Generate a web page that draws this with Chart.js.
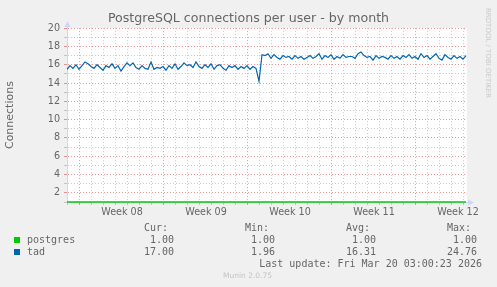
<!DOCTYPE html>
<html>
<head>
<meta charset="utf-8">
<script src="https://cdn.jsdelivr.net/npm/chart.js@4/dist/chart.umd.min.js"></script>
<style>
  html, body { margin:0; padding:0; background:#f0f0f0; }
  #wrap { position:relative; width:497px; height:287px; overflow:hidden; }
  canvas { position:absolute; left:0; top:0; }
  .t { position:absolute; font-family:'DejaVu Sans Mono', monospace; font-size:10px; line-height:12px; color:#666; white-space:pre; }
  .sq { position:absolute; width:6px; height:6px; }
  .wm { position:absolute; font-family:'DejaVu Sans', sans-serif; font-size:7px; color:#c8c8c8; white-space:pre; }
</style>
</head>
<body>
<div id="wrap">
  <canvas id="c" width="497" height="287"></canvas>
</div>
<script>
// ---- data ----
const titleText = 'PostgreSQL connections per user - by month';
const yAxisTitle = 'Connections';
const weekLabels = ['Week 08', 'Week 09', 'Week 10', 'Week 11', 'Week 12'];
const yTickLabels = ['2', '4', '6', '8', '10', '12', '14', '16', '18', '20'];
const seriesNames = ['postgres', 'tad'];
const seriesColors = ['#00CC00', '#0066B3'];
// samples every 6 hours (0.25 day), starting at the left edge of the graph
const sampleStepDays = 0.25;
const tadValues = [
  15.5, 15.9, 15.6, 16.0, 15.5, 15.9, 16.3, 16.1, 15.8, 15.6,
  16.0, 15.7, 15.4, 15.9, 15.7, 16.1, 15.6, 15.9, 15.3, 15.8,
  16.2, 15.9, 16.2, 15.7, 15.5, 15.9, 15.6, 15.5, 16.3, 15.5,
  15.7, 15.6, 15.8, 15.4, 15.9, 15.6, 16.1, 15.5, 15.8, 16.2,
  15.9, 16.0, 15.7, 16.3, 15.8, 15.6, 16.0, 15.7, 16.1, 15.5,
  15.9, 16.0, 15.6, 15.4, 15.9, 15.7, 15.9, 15.5, 15.8, 15.6,
  15.9, 15.5, 15.8, 15.6, 14.2,
  17.1, 17.0, 17.2, 16.7, 17.1, 16.8, 16.6, 17.0, 16.8, 16.9,
  16.6, 17.0, 16.7, 16.9, 16.6, 16.8, 17.0, 16.7, 16.9, 17.2,
  16.6, 17.0, 16.8, 17.1, 16.6, 16.9, 16.7, 17.1, 16.8, 16.9,
  16.9, 16.7, 17.2, 17.4, 17.0, 16.8, 16.9, 16.5, 17.0, 16.7,
  16.9, 16.8, 16.6, 17.0, 16.7, 16.9, 16.6, 17.0, 16.8, 17.1,
  16.7, 16.9, 16.6, 17.2, 16.8, 17.0, 16.6, 16.9, 17.2, 16.7,
  16.5, 17.1, 16.8, 16.6, 17.0, 16.7, 16.9, 16.6, 17.0
];
const postgresDays = [0, 33.25];
const postgresValues = [1.00, 1.00];
const statHeaders = ['Cur:', 'Min:', 'Avg:', 'Max:'];
const postgresStats = ['1.00', '1.00', '1.00', '1.00'];
const tadStats = ['17.00', '1.96', '16.31', '24.76'];
const lastUpdate = 'Last update: Fri Mar 20 03:00:23 2026';
const footer = 'Munin 2.0.75';
const watermark = 'RRDTOOL / TOBI OETIKER';

// ---- axis geometry (days) ----
const xMaxDays = 400 / 12;
const firstMidnight = 1 / 12;         // first day boundary
const firstWeekStart = 1 + 1 / 12;    // first week boundary
const dayTicks = [];
for (let d = firstMidnight; d < xMaxDays; d += 1) dayTicks.push(+d.toFixed(4));
const weekLabelPos = weekLabels.map((_, i) => +(firstWeekStart + 3.5 + 7 * i).toFixed(4));

const isLabelTick = v => weekLabelPos.some(p => Math.abs(p - v) < 1e-3);
const isWeekLine = v => { const k = (v - firstWeekStart) / 7; return Math.abs(k - Math.round(k)) < 1e-3; };

const MGRID = 'rgba(220,50,50,0.5)';
const GRID = 'rgba(140,140,140,0.45)';
const AXIS = '#CFD6F8';

const canvasBg = {
  id: 'canvasBg',
  beforeDraw(chart) {
    const { ctx, chartArea: a } = chart;
    ctx.save();
    ctx.fillStyle = '#ffffff';
    ctx.fillRect(a.left, a.top, a.right - a.left, a.bottom - a.top);
    ctx.restore();
  }
};

const arrows = {
  id: 'arrows',
  afterDraw(chart) {
    const { ctx, chartArea: a } = chart;
    ctx.save();
    ctx.fillStyle = AXIS;
    ctx.strokeStyle = AXIS;
    ctx.lineWidth = 1;
    ctx.beginPath(); ctx.moveTo(a.left + 0.5, a.top); ctx.lineTo(a.left + 0.5, a.top - 2); ctx.stroke();
    ctx.beginPath();
    ctx.moveTo(a.left + 0.5, a.top - 7);
    ctx.lineTo(a.left - 2.5, a.top - 1);
    ctx.lineTo(a.left + 3.5, a.top - 1);
    ctx.closePath(); ctx.fill();
    ctx.beginPath(); ctx.moveTo(a.right, a.bottom + 0.5); ctx.lineTo(a.right + 2, a.bottom + 0.5); ctx.stroke();
    ctx.beginPath();
    ctx.moveTo(a.right + 7, a.bottom + 0.5);
    ctx.lineTo(a.right + 1, a.bottom - 2.5);
    ctx.lineTo(a.right + 1, a.bottom + 3.5);
    ctx.closePath(); ctx.fill();
    ctx.restore();
  }
};

const chart = new Chart(document.getElementById('c'), {
  type: 'line',
  data: {
    datasets: [
      {
        label: seriesNames[0],
        data: postgresDays.map((d, i) => ({ x: d, y: postgresValues[i] })),
        borderColor: seriesColors[0], borderWidth: 1.6, pointRadius: 0, clip: false, order: 1
      },
      {
        label: seriesNames[1],
        data: tadValues.map((v, i) => ({ x: i * sampleStepDays, y: v })),
        borderColor: seriesColors[1], borderWidth: 1.2, pointRadius: 0, tension: 0, order: 0
      }
    ]
  },
  options: {
    responsive: false,
    devicePixelRatio: 1,
    animation: false,
    events: [],
    layout: { padding: { left: 0, right: 0, top: 0, bottom: 65 } },
    plugins: {
      legend: { display: false },
      tooltip: { enabled: false },
      title: {
        display: true, text: titleText, color: '#666',
        font: { family: 'DejaVu Sans', size: 12.6, weight: 'normal' },
        padding: { top: 11, bottom: 2 }
      }
    },
    scales: {
      x: {
        type: 'linear', min: 0, max: xMaxDays,
        afterBuildTicks: s => { s.ticks = dayTicks.concat(weekLabelPos).sort((a, b) => a - b).map(v => ({ value: v })); },
        afterFit: s => { s.height = 20; },
        ticks: {
          autoSkip: false, maxRotation: 0, padding: 2, color: '#666',
          font: { family: 'DejaVu Sans', size: 9.6 },
          callback: v => { const i = weekLabelPos.findIndex(p => Math.abs(p - v) < 1e-3); return i >= 0 ? weekLabels[i] : ''; }
        },
        grid: {
          tickLength: 3,
          color: c => isLabelTick(c.tick.value) ? 'rgba(0,0,0,0)' : (isWeekLine(c.tick.value) ? MGRID : GRID),
          tickColor: c => isLabelTick(c.tick.value) ? 'rgba(0,0,0,0)' : (isWeekLine(c.tick.value) ? MGRID : GRID)
        },
        border: { color: AXIS, width: 1, dash: [1, 2] }
      },
      y: {
        min: 1, max: 20,
        afterBuildTicks: s => {
          const t = [];
          for (let v = 1; v <= 20; v++) t.push({ value: v });
          s.ticks = t;
        },
        afterFit: s => { s.width = 67; },
        ticks: {
          autoSkip: false, padding: 4, color: '#666',
          font: { family: 'DejaVu Sans', size: 9.6 },
          callback: v => yTickLabels.includes(String(v)) ? String(v) : ''
        },
        grid: {
          tickLength: 3,
          color: c => (c.tick.value % 2 === 0 ? MGRID : GRID),
          tickColor: c => (c.tick.value % 2 === 0 ? MGRID : GRID)
        },
        border: { color: AXIS, width: 1, dash: [1, 2] },
        title: {
          display: true, text: yAxisTitle, color: '#666',
          font: { family: 'DejaVu Sans', size: 11, weight: 'normal' },
          padding: { top: 4, bottom: 0 }
        }
      },
      yRight: {
        position: 'right', min: 1, max: 20,
        afterFit: s => { s.width = 30; },
        ticks: { display: false },
        grid: { display: false, drawTicks: false },
        border: { display: false }
      }
    }
  },
  plugins: [canvasBg, arrows]
});

// ---- legend / footer as real text ----
const wrap = document.getElementById('wrap');
function addText(text, cls, opts) {
  const d = document.createElement('div');
  d.className = cls;
  d.textContent = text;
  Object.assign(d.style, opts);
  wrap.appendChild(d);
  return d;
}
const colEnds = [174, 275, 376, 477];
const rowY = [228, 240, 252];
statHeaders.forEach((h, i) => addText(h, 't', { right: (497 - colEnds[i] + 6) + 'px', top: (rowY[0] - 6) + 'px' }));
[postgresStats, tadStats].forEach((stats, r) => {
  const y = rowY[r + 1];
  const sq = document.createElement('div');
  sq.className = 'sq';
  Object.assign(sq.style, { left: '14px', top: (y - 3) + 'px', background: seriesColors[r] });
  wrap.appendChild(sq);
  addText(seriesNames[r], 't', { left: '27px', top: (y - 6) + 'px' });
  stats.forEach((s, i) => addText(s, 't', { right: (497 - colEnds[i]) + 'px', top: (y - 6) + 'px' }));
});
addText(lastUpdate, 't', { right: (497 - 482) + 'px', top: (264 - 6) + 'px' });
addText(footer, 'wm', { left: '223px', top: '271px', fontSize: '7.5px', color: '#c4c4c4' });
addText(watermark, 'wm', { left: '488px', top: '53px', transform: 'translate(-50%,-50%) rotate(90deg)', transformOrigin: 'center' });
</script>
</body>
</html>
